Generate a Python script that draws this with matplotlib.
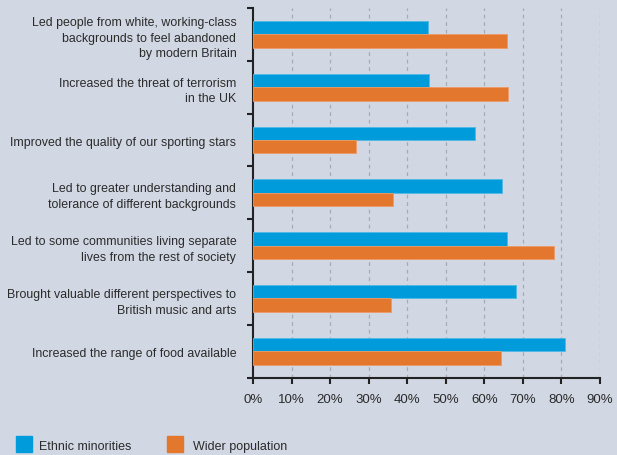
import matplotlib
matplotlib.use("Agg")
from matplotlib import pyplot as plt
from matplotlib.patches import Rectangle
import numpy as np

categories = [
    "Led people from white, working-class\nbackgrounds to feel abandoned\nby modern Britain",
    "Increased the threat of terrorism\nin the UK",
    "Improved the quality of our sporting stars",
    "Led to greater understanding and\ntolerance of different backgrounds",
    "Led to some communities living separate\nlives from the rest of society",
    "Brought valuable different perspectives to\nBritish music and arts",
    "Increased the range of food available",
]
ethnic_minorities = [45.4, 45.7, 57.7, 64.5, 65.9, 68.2, 80.9]
wider_population = [65.9, 66.2, 26.6, 36.2, 78.0, 35.7, 64.4]
x_ticks = list(range(0, 100, 10))

BG = "#D1D7E3"
BLUE = "#009BDB"
ORANGE = "#E3772E"
TXT = "#2B2B2B"

plt.rcParams["font.family"] = ["Liberation Sans", "DejaVu Sans"]

fig = plt.figure(figsize=(6.17, 4.56), dpi=100, facecolor=BG)
ax = fig.add_axes([0.410, 0.1695, 0.5624, 0.8108])
ax.set_facecolor(BG)

n = len(categories)
y = np.arange(n)
h = 0.255
ax.barh(y - h / 2, ethnic_minorities, height=h, color=BLUE,
        edgecolor="#4FB8E6", linewidth=0.6, zorder=3)
ax.barh(y + h / 2, wider_population, height=h, color=ORANGE,
        edgecolor="#EC9A66", linewidth=0.6, zorder=3)

ax.set_xlim(0, 90)
ax.set_ylim(n - 0.5, -0.5)

ax.set_xticks(x_ticks)
ax.set_xticklabels([f"{v}%" for v in x_ticks], fontsize=9.5, color=TXT)
ax.tick_params(axis="x", length=4, width=1.5, color="#222222", pad=7)

# boundaries get the tick marks, labels go in between
ax.set_yticks(np.arange(-0.5, n, 1.0))
ax.set_yticklabels([])
ax.tick_params(axis="y", which="major", length=4.5, width=1.5, color="#222222")
ax.set_yticks(y, minor=True)
ax.set_yticklabels(categories, minor=True, fontsize=8.9, color=TXT,
                   linespacing=1.4)
ax.tick_params(axis="y", which="minor", length=0, pad=12)

for v in x_ticks[1:]:
    ax.axvline(v, color="#A6ABB5", linestyle=(0, (3, 3)), linewidth=0.9, zorder=1)

for s in ["top", "right"]:
    ax.spines[s].set_visible(False)
for s in ["left", "bottom"]:
    ax.spines[s].set_linewidth(1.5)
    ax.spines[s].set_color("#222222")

# legend drawn by hand at the bottom
fig.patches.append(Rectangle((16 / 617, 1 - 453 / 456), 16 / 617, 16 / 456,
                             transform=fig.transFigure, color=BLUE))
fig.text(39 / 617, 1 - 447 / 456, "Ethnic minorities", fontsize=9, color=TXT,
         va="center")
fig.patches.append(Rectangle((167 / 617, 1 - 453 / 456), 16 / 617, 16 / 456,
                             transform=fig.transFigure, color=ORANGE))
fig.text(193 / 617, 1 - 447 / 456, "Wider population", fontsize=9, color=TXT,
         va="center")

fig.savefig("out.png", dpi=100, facecolor=BG)
